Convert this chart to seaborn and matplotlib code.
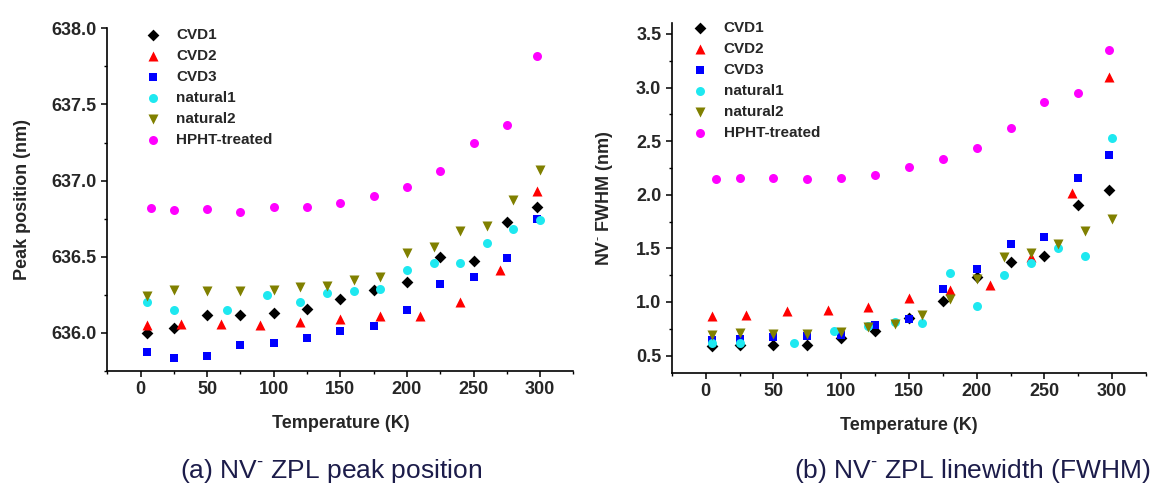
import numpy as np
import pandas as pd
import matplotlib
matplotlib.use("Agg")
import matplotlib.pyplot as plt
import seaborn as sns
from matplotlib.ticker import MultipleLocator

# ---- data: (a) ZPL peak position (nm) ----
cvd1_T = [5, 25, 50, 75, 100, 125, 150, 175, 200, 225, 250, 275, 298]
cvd1_peak = [636.00, 636.03, 636.12, 636.12, 636.13, 636.16, 636.22, 636.28, 636.335, 636.50, 636.47, 636.73, 636.83]
cvd2_T = [5, 30, 60, 90, 120, 150, 180, 210, 240, 270, 298]
cvd2_peak = [636.05, 636.06, 636.06, 636.05, 636.07, 636.09, 636.11, 636.11, 636.20, 636.41, 636.93]
cvd3_T = [5, 25, 50, 75, 100, 125, 150, 175, 200, 225, 250, 275, 298]
cvd3_peak = [635.875, 635.835, 635.85, 635.92, 635.935, 635.965, 636.01, 636.045, 636.15, 636.32, 636.37, 636.49, 636.75]
nat1_T = [5, 25, 65, 95, 120, 140, 160, 180, 200, 220, 240, 260, 280, 300]
nat1_peak = [636.20, 636.15, 636.15, 636.25, 636.20, 636.265, 636.275, 636.29, 636.41, 636.46, 636.46, 636.59, 636.68, 636.74]
nat2_T = [5, 25, 50, 75, 100, 120, 140, 160, 180, 200, 220, 240, 260, 280, 300]
nat2_peak = [636.24, 636.28, 636.275, 636.275, 636.28, 636.30, 636.31, 636.345, 636.37, 636.525, 636.565, 636.67, 636.70, 636.875, 637.07]
hpht_T = [8, 25, 50, 75, 100, 125, 150, 175, 200, 225, 250, 275, 298]
hpht_peak = [636.82, 636.81, 636.815, 636.795, 636.83, 636.83, 636.855, 636.90, 636.96, 637.065, 637.245, 637.365, 637.82]

# ---- data: (b) ZPL linewidth FWHM (nm) ----
cvd1_fwhm = [0.585, 0.60, 0.595, 0.595, 0.66, 0.73, 0.85, 1.005, 1.23, 1.37, 1.43, 1.90, 2.045]
cvd2_fwhm = [0.87, 0.875, 0.92, 0.925, 0.95, 1.04, 1.115, 1.16, 1.42, 2.015, 3.10]
cvd3_fwhm = [0.645, 0.655, 0.67, 0.68, 0.695, 0.785, 0.845, 1.12, 1.31, 1.54, 1.605, 2.155, 2.375]
nat1_fwhm = [0.615, 0.62, 0.615, 0.725, 0.78, 0.815, 0.80, 1.27, 0.965, 1.255, 1.365, 1.50, 1.425, 2.53]
nat2_fwhm = [0.695, 0.71, 0.70, 0.70, 0.72, 0.765, 0.795, 0.88, 1.025, 1.21, 1.42, 1.455, 1.545, 1.665, 1.775]
hpht_fwhm = [2.15, 2.16, 2.155, 2.15, 2.155, 2.185, 2.255, 2.335, 2.44, 2.625, 2.865, 2.945, 3.355]

samples = ["CVD1", "CVD2", "CVD3", "natural1", "natural2", "HPHT-treated"]
temps = [cvd1_T, cvd2_T, cvd3_T, nat1_T, nat2_T, hpht_T]
peaks = [cvd1_peak, cvd2_peak, cvd3_peak, nat1_peak, nat2_peak, hpht_peak]
fwhms = [cvd1_fwhm, cvd2_fwhm, cvd3_fwhm, nat1_fwhm, nat2_fwhm, hpht_fwhm]

colors = {"CVD1": "#000000", "CVD2": "#ff0000", "CVD3": "#0000ff",
          "natural1": "#1ee8f0", "natural2": "#808000", "HPHT-treated": "#ff00ff"}
markers = {"CVD1": "D", "CVD2": "^", "CVD3": "s",
           "natural1": "o", "natural2": "v", "HPHT-treated": "o"}
msize = {"CVD1": 36, "CVD2": 52, "CVD3": 32, "natural1": 42, "natural2": 52, "HPHT-treated": 42}

rows = []
for name, T, p, w in zip(samples, temps, peaks, fwhms):
    for t, pv, wv in zip(T, p, w):
        rows.append((name, t, pv, wv))
df = pd.DataFrame(rows, columns=["Sample", "T", "peak", "fwhm"])

sns.set_style("ticks")
plt.rcParams["font.family"] = ["Liberation Sans", "DejaVu Sans"]
plt.rcParams["mathtext.fontset"] = "custom"
plt.rcParams["mathtext.rm"] = "Liberation Sans"
plt.rcParams["mathtext.bf"] = "Liberation Sans:bold"

fig = plt.figure(figsize=(11.53, 4.83), dpi=100)
ax1 = fig.add_axes([0.0931, 0.2319, 0.4042, 0.7095])
ax2 = fig.add_axes([0.5826, 0.2284, 0.4114, 0.7234])


def draw(ax, col):
    for name in samples:
        d = df[df["Sample"] == name]
        sns.scatterplot(data=d, x="T", y=col, ax=ax, color=colors[name], marker=markers[name],
                        s=msize[name], linewidth=0, label=name, zorder=3)


draw(ax1, "peak")
draw(ax2, "fwhm")

for ax in (ax1, ax2):
    sns.despine(ax=ax)
    for sp in ("left", "bottom"):
        ax.spines[sp].set_linewidth(1.2)
        ax.spines[sp].set_color("black")
    ax.set_xlim(-25, 325)
    ax.xaxis.set_major_locator(MultipleLocator(50))
    ax.xaxis.set_minor_locator(MultipleLocator(25))
    ax.tick_params(which="major", direction="out", length=4, width=1.1, labelsize=13, color="black")
    ax.tick_params(which="minor", direction="out", length=2.5, width=1.0, color="black")
    ax.set_xlabel("Temperature (K)", fontsize=13, fontweight="bold", labelpad=12)

ax1.set_ylim(635.75, 638.0)
ax1.yaxis.set_major_locator(MultipleLocator(0.5))
ax1.yaxis.set_minor_locator(MultipleLocator(0.25))
ax1.yaxis.set_major_formatter(matplotlib.ticker.FormatStrFormatter("%.1f"))
ax1.set_ylabel("Peak position (nm)", fontsize=13, fontweight="bold", labelpad=15)

ax2.set_ylim(0.34, 3.6)
ax2.yaxis.set_major_locator(MultipleLocator(0.5))
ax2.yaxis.set_minor_locator(MultipleLocator(0.25))
ax2.yaxis.set_major_formatter(matplotlib.ticker.FormatStrFormatter("%.1f"))
ax2.set_ylabel(r"NV$^{\mathbf{\text{-}}}$ FWHM (nm)", fontsize=13, fontweight="bold", labelpad=15)

for ax in (ax1, ax2):
    for lab in ax.get_xticklabels() + ax.get_yticklabels():
        lab.set_fontweight("bold")

leg_kw = dict(frameon=False, loc="upper left", borderaxespad=0, borderpad=0,
              handlelength=1.0, handletextpad=1.05, labelspacing=0.46,
              prop={"weight": "bold", "size": 11})
ax1.legend(bbox_to_anchor=(0.081, 1.0), **leg_kw)
ax2.legend(bbox_to_anchor=(0.0436, 1.006), **leg_kw)

cap_color = "#1c1c4a"
fig.text(331 / 1153, 1 - 471 / 483, r"(a) NV$^{\text{-}}$ ZPL peak position", ha="center", va="center",
         fontsize=19, color=cap_color)
fig.text(972 / 1153, 1 - 471 / 483, r"(b) NV$^{\text{-}}$ ZPL linewidth (FWHM)", ha="center", va="center",
         fontsize=19, color=cap_color)

fig.savefig("out.png", dpi=100)
